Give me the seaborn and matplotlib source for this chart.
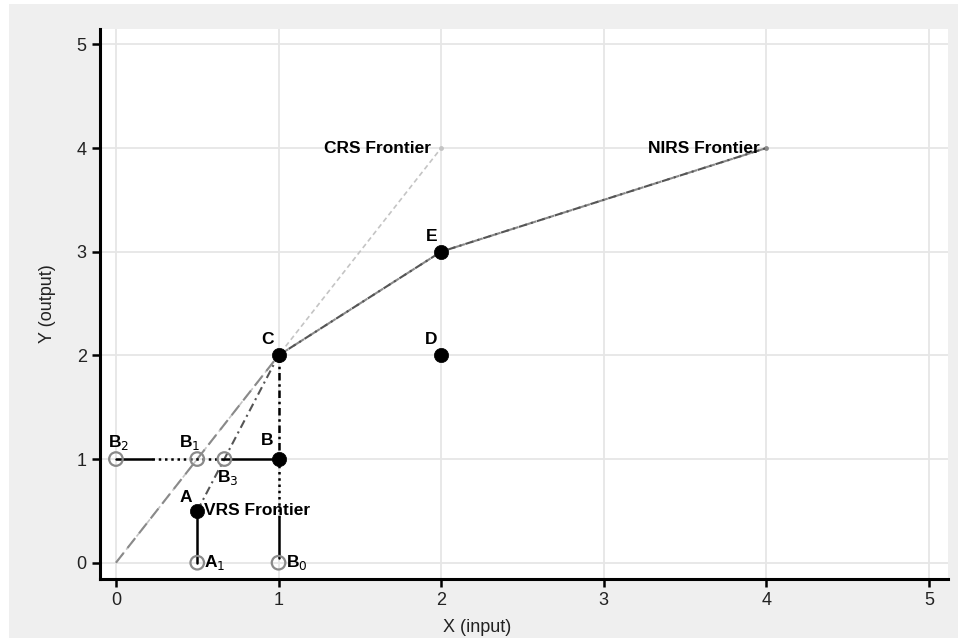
import matplotlib
matplotlib.use("Agg")
import matplotlib.pyplot as plt
import seaborn as sns

# ---- data ----
crs_x = [0, 2]
crs_y = [0, 4]
nirs_x = [0, 1, 2, 4]
nirs_y = [0, 2, 3, 4]
vrs_x = [0.5, 1, 2, 4]
vrs_y = [0.5, 2, 3, 4]

firm_labels = ["A", "B", "C", "D", "E"]
firm_x = [0.5, 1, 1, 2, 2]
firm_y = [0.5, 1, 2, 2, 3]

proj_labels = ["B$_2$", "B$_1$", "B$_3$", "A$_1$", "B$_0$"]
proj_x = [0, 0.5, 0.667, 0.5, 1]
proj_y = [1, 1, 1, 0, 0]

# reference segments ((x0, x1), (y0, y1))
seg_solid = [((0, 0.22), (1, 1)), ((0.667, 1), (1, 1)), ((0.5, 0.5), (0.5, 0)), ((1, 1), (0.44, 0.05))]
seg_dotted = [((0.22, 0.667), (1, 1)), ((1, 1), (1, 0.44))]
seg_dashdot = [((1, 1), (2, 1))]

xticks = [0, 1, 2, 3, 4, 5]
yticks = [0, 1, 2, 3, 4, 5]

# ---- style ----
sns.set_style("white")
plt.rcParams["font.family"] = ["Liberation Sans", "DejaVu Sans"]

W, H = 961, 641
fig = plt.figure(figsize=(W / 100, H / 100), dpi=100)
fig.patch.set_facecolor("white")
bg = plt.Rectangle((9 / W, 1 - 638 / H), (958 - 9) / W, (638 - 4) / H,
                   transform=fig.transFigure, facecolor="#efefef", edgecolor="none", zorder=-10)
fig.patches.append(bg)

ax = fig.add_axes([100 / W, 1 - 579 / H, (948 - 100) / W, (579 - 29) / H])
ax.set_facecolor("white")

ax.set_xlim(-0.098, 5.117)
ax.set_ylim(-0.157, 5.148)
ax.set_xticks(xticks)
ax.set_yticks(yticks)
ax.grid(True, color="#e6e6e6", linewidth=1.3, zorder=0)
ax.set_axisbelow(True)

for s in ["top", "right"]:
    ax.spines[s].set_visible(False)
for s in ["left", "bottom"]:
    ax.spines[s].set_color("black")
    ax.spines[s].set_linewidth(2.2)
ax.tick_params(axis="both", direction="out", length=6, width=1.8, color="black",
               labelsize=13, pad=3.5, labelcolor="#222222")
ax.tick_params(axis="y", left=True)
ax.tick_params(axis="x", bottom=True)

# frontier lines
sns.lineplot(x=crs_x, y=crs_y, sort=False, estimator=None, ax=ax, color="#c4c4c4", linewidth=1.2,
             linestyle=(0, (3, 2)), marker="o", markersize=3.5, markevery=[1],
             markeredgewidth=0, zorder=2)
sns.lineplot(x=nirs_x, y=nirs_y, sort=False, estimator=None, ax=ax, color="#8a8a8a", linewidth=1.5,
             linestyle=(0, (6, 3)), marker="o", markersize=3.5, markevery=[3],
             markeredgewidth=0, zorder=3)
sns.lineplot(x=vrs_x, y=vrs_y, sort=False, estimator=None, ax=ax, color="#555555", linewidth=1.5,
             linestyle=(0, (4, 2, 1, 2)), zorder=3)

# reference segments
for xs, ys in seg_solid:
    sns.lineplot(x=list(xs), y=list(ys), sort=False, estimator=None, ax=ax, color="black",
                 linewidth=1.8, zorder=4)
for xs, ys in seg_dotted:
    sns.lineplot(x=list(xs), y=list(ys), sort=False, estimator=None, ax=ax, color="black",
                 linewidth=1.8, linestyle=(0, (1, 1.5)), zorder=4)
for xs, ys in seg_dashdot:
    sns.lineplot(x=list(xs), y=list(ys), sort=False, estimator=None, ax=ax, color="black",
                 linewidth=1.8, linestyle=(0, (3, 1.5, 1, 1.5)), zorder=4)

# points
sns.scatterplot(x=proj_x, y=proj_y, ax=ax, s=95, facecolor="none", edgecolor="#8a8a8a",
                linewidth=1.6, zorder=5)
sns.scatterplot(x=firm_x, y=firm_y, ax=ax, s=105, color="black", edgecolor="black",
                linewidth=0.5, zorder=6)

# labels
fs = 12.5
fw = "bold"
firm_offsets = {"A": (-0.07, 0.13), "B": (-0.07, 0.18), "C": (-0.07, 0.15),
                "D": (-0.06, 0.15), "E": (-0.06, 0.15)}
for lab, x, y in zip(firm_labels, firm_x, firm_y):
    dx, dy = firm_offsets[lab]
    ax.text(x + dx, y + dy, lab, fontsize=fs, fontweight=fw, ha="center", va="center",
            color="black", zorder=7)

proj_offsets = [(0.015, 0.16), (-0.045, 0.16), (0.02, -0.18), (0.11, 0.0), (0.11, 0.0)]
for lab, x, y, (dx, dy) in zip(proj_labels, proj_x, proj_y, proj_offsets):
    ax.text(x + dx, y + dy, lab, fontsize=fs, fontweight=fw, ha="center", va="center",
            color="black", zorder=7)

ax.text(0.54, 0.5, "VRS Frontier", fontsize=fs, fontweight=fw, ha="left", va="center",
        color="black", zorder=7)
ax.text(1.94, 4.0, "CRS Frontier", fontsize=fs, fontweight=fw, ha="right", va="center",
        color="black", zorder=7)
ax.text(3.96, 4.0, "NIRS Frontier", fontsize=fs, fontweight=fw, ha="right", va="center",
        color="black", zorder=7)

ax.set_xlabel("X (input)", fontsize=13, color="#222222")
ax.set_ylabel("Y (output)", fontsize=13, color="#222222")
ax.xaxis.set_label_coords((477 - 100) / 848, -(628 - 579) / 550)
ax.yaxis.set_label_coords(-(100 - 47) / 848, 0.5)
ax.xaxis.label.set_va("center")
ax.yaxis.label.set_va("center")

fig.savefig("out.png", dpi=100, facecolor=fig.get_facecolor())
